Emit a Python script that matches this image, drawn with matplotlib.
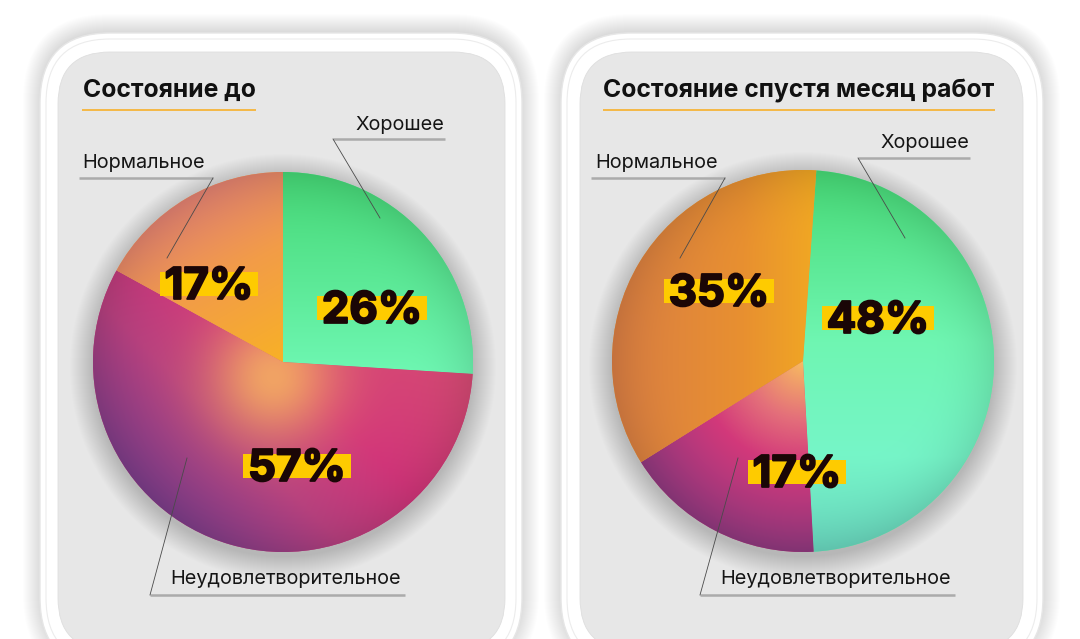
import numpy as np
import matplotlib
matplotlib.use('Agg')
import matplotlib.pyplot as plt
import matplotlib.patheffects as pe
from matplotlib.patches import FancyBboxPatch, Circle, Rectangle
from matplotlib.colors import to_rgb

# ---------------- data ----------------
categories = ['Хорошее', 'Неудовлетворительное', 'Нормальное']
before_values = [26, 57, 17]
after_values = [48, 17, 35]
titles = ['Состояние до', 'Состояние спустя месяц работ']

# ---------------- layout (pixels, image coords: y down) ----------------
W, H = 1080, 639
FONT = ['Inter', 'DejaVu Sans']


def Y(y):
    return H - y


panels = [
    dict(values=before_values, title=titles[0], title_xy=(83, 96.5), title_line=(82, 256, 110),
         center=(283, 362), R=190, start=90,
         pct_xy=[(372, 307), (297, 465), (209, 283)],
         lab=[dict(text=(355, 130), line=(333, 445, 139), lead=((333, 139), (380, 218))),
              dict(text=(170, 584), line=(150, 405, 595), lead=((150, 595), (187, 458))),
              dict(text=(82, 168), line=(79, 213, 178), lead=((213, 178), (167, 258)))],
         phone=(40, 522), screen=(58, 505), style='before'),
    dict(values=after_values, title=titles[1], title_xy=(603, 96.5), title_line=(603, 995, 110),
         center=(803, 361), R=191, start=86,
         pct_xy=[(878, 317), (797, 471), (719, 290)],
         lab=[dict(text=(880, 148), line=(858, 970, 158), lead=((858, 158), (905, 238))),
              dict(text=(720, 584), line=(700, 955, 595), lead=((700, 595), (738, 458))),
              dict(text=(595, 168), line=(591, 725, 178), lead=((725, 178), (680, 258)))],
         phone=(561, 1043), screen=(580, 1023), style='after'),
]


def mix(stops, t):
    t = np.clip(t, stops[0][0], stops[-1][0])
    out = np.zeros(t.shape + (3,))
    pos = [p for p, _ in stops]
    cols = [np.array(to_rgb(c)) for _, c in stops]
    for ch in range(3):
        out[..., ch] = np.interp(t, pos, [c[ch] for c in cols])
    return out


def grad_for(style, idx, u, v):
    r = np.sqrt(u ** 2 + v ** 2)
    if style == 'before':
        if idx == 0:   # good, green
            rgb = mix([(0, '#46d876'), (1, '#6ef7b2')], (1 - v) / 1.05)
        elif idx == 2:  # normal, orange
            p = (u * -0.5 + v * 0.87)
            rgb = mix([(0, '#f8b126'), (0.55, '#f29c48'), (1, '#e48272')], p)
        else:  # bad, magenta/purple
            q = (u * -0.7 + v * -0.7)
            base = mix([(-1, '#d85870'), (0.0, '#d2357a'), (0.45, '#b8407f'), (1, '#7a3d8a')], q)
            g = np.exp(-((u + 0.05) ** 2 + (v + 0.08) ** 2) / 0.12) * 0.85
            glow = np.array(to_rgb('#f7b660'))
            rgb = base * (1 - g[..., None]) + glow * g[..., None]
    else:
        if idx == 0:
            t = (1 - v) / 2
            rgb = mix([(0, '#47da76'), (0.45, '#6ff6b2'), (0.75, '#76f5c8'), (1, '#6ad8c0')], t)
        elif idx == 2:
            rgb = mix([(0, '#da7e44'), (0.6, '#e89030'), (1, '#f3ad20')], (u + 1) / 1.15)
        else:
            rgb = mix([(0, '#f8bc60'), (0.3, '#e4707a'), (0.55, '#d2387a'), (1, '#90397f')], r)
    shade = 1 - 0.10 * np.clip((r - 0.6) / 0.4, 0, 1) ** 2.5
    return np.clip(rgb * shade[..., None], 0, 1)


base_colors = {'before': ['#55e690', '#c83a7a', '#ee9a48'],
               'after': ['#60ee9e', '#c8407a', '#e6952e']}

fig = plt.figure(figsize=(W / 100, H / 100), dpi=100)
fig.patch.set_facecolor('white')
ax = fig.add_axes([0, 0, 1, 1])
ax.set_xlim(0, W)
ax.set_ylim(0, H)
ax.set_autoscale_on(False)

# ---------------- phones ----------------
for P in panels:
    x0, x1 = P['phone']
    top, bot = 33, 668
    for k in range(18):
        sh = FancyBboxPatch((x0 - k, Y(bot) - k + 4), (x1 - x0) + 2 * k, (bot - top) + 2 * k - 2,
                            boxstyle='round,pad=0,rounding_size=%d' % (70 + k),
                            facecolor='black', edgecolor='none', alpha=0.007, zorder=0.5)
        ax.add_patch(sh)
    body = FancyBboxPatch((x0, Y(bot)), x1 - x0, bot - top, boxstyle='round,pad=0,rounding_size=70',
                          facecolor='white', edgecolor='#e6e6e6', lw=1.0, zorder=0.8)
    ax.add_patch(body)
    inner = FancyBboxPatch((x0 + 6, Y(bot) + 6), x1 - x0 - 12, bot - top - 12,
                           boxstyle='round,pad=0,rounding_size=64',
                           facecolor='none', edgecolor='#ececec', lw=0.8, zorder=0.9)
    ax.add_patch(inner)
    s0, s1 = P['screen']
    stop, sbot = 52, 650
    scr = FancyBboxPatch((s0, Y(sbot)), s1 - s0, sbot - stop, boxstyle='round,pad=0,rounding_size=52',
                         facecolor='#e7e7e7', edgecolor='#dedede', lw=0.6, zorder=1)
    ax.add_patch(scr)

# ---------------- pies ----------------
n = 500
xs = np.linspace(-1, 1, n)
U, V = np.meshgrid(xs, xs)

renderer = fig.canvas.get_renderer()
for P in panels:
    cx, cy = P['center']
    R = P['R']
    for k in range(24):
        ax.add_patch(Circle((cx, Y(cy) - 5), R + k, facecolor='black', edgecolor='none',
                            alpha=0.006, zorder=1.5))
    wedges, _ = ax.pie(P['values'], center=(cx, Y(cy)), radius=R, startangle=P['start'],
                       counterclock=False, colors=base_colors[P['style']], frame=True,
                       wedgeprops=dict(linewidth=0, zorder=2))
    ax.set_xlim(0, W)
    ax.set_ylim(0, H)
    for i, w in enumerate(wedges):
        rgb = grad_for(P['style'], i, U, V)
        im = ax.imshow(rgb, extent=(cx - R, cx + R, Y(cy) - R, Y(cy) + R), origin='lower',
                       interpolation='bilinear', aspect='auto', zorder=3)
        im.set_clip_path(w)
    ax.set_xlim(0, W)
    ax.set_ylim(0, H)

    # title
    tx, ty = P['title_xy']
    ax.text(tx, Y(ty), P['title'], fontsize=17.8, fontweight='bold', family=FONT,
            color='#111111', ha='left', va='baseline', zorder=6)
    lx0, lx1, ly = P['title_line']
    ax.plot([lx0, lx1], [Y(ly), Y(ly)], color='#f6b53a', lw=1.3, zorder=6, solid_capstyle='butt')

    # category labels with leader lines
    for cat, L in zip(categories, P['lab']):
        x, y = L['text']
        ax.text(x, Y(y), cat, fontsize=14.3, family=FONT, color='#151515',
                ha='left', va='baseline', zorder=6)
        a, b, yy = L['line']
        ax.plot([a, b], [Y(yy), Y(yy)], color='#ababab', lw=1.8, zorder=6, solid_capstyle='butt')
        (p0x, p0y), (p1x, p1y) = L['lead']
        ax.plot([p0x, p1x], [Y(p0y), Y(p1y)], color='#4a4a4a', lw=0.6, zorder=6)

    # percentage labels with yellow highlight
    fs = 31.5
    cap = 0.727 * fs * 100 / 72
    for val, (px, py) in zip(P['values'], P['pct_xy']):
        base = Y(py) - cap / 2
        t = ax.text(px, base, f'{val}%', fontsize=fs, fontweight='bold', family=FONT,
                    color='#1a0606', ha='center', va='baseline', zorder=8,
                    path_effects=[pe.withStroke(linewidth=1.4, foreground='#1a0606')])
        bb = t.get_window_extent(renderer=renderer)
        ax.add_patch(Rectangle((bb.x0 - 5, base + 3), bb.width + 10, cap - 8,
                               facecolor='#fecb00', edgecolor='none', zorder=7))

ax.set_xlim(0, W)
ax.set_ylim(0, H)
ax.set_aspect('auto')
ax.axis('off')

fig.savefig('out.png', dpi=100, facecolor='white')
